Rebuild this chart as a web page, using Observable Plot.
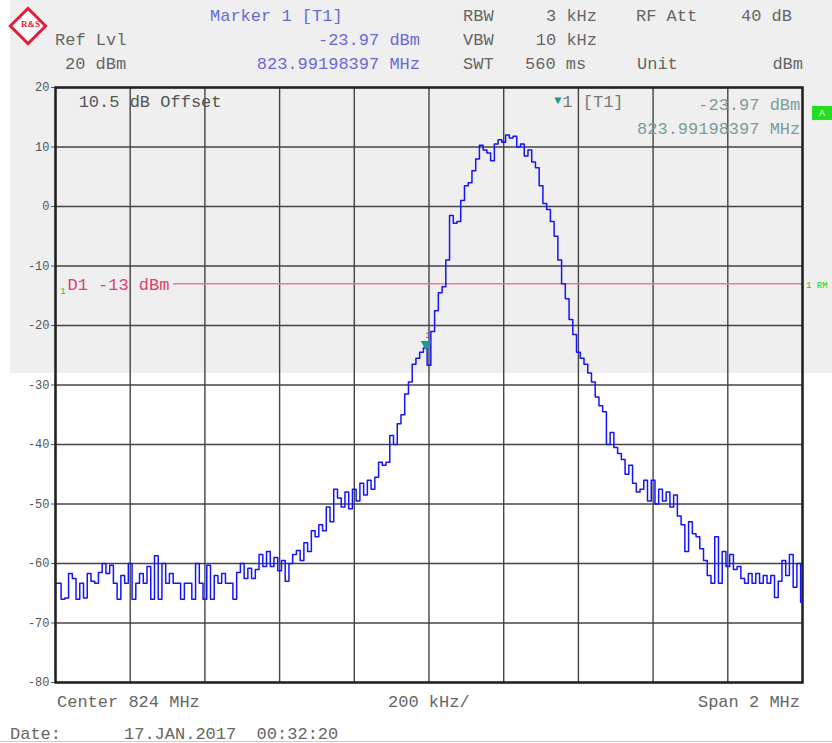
<!DOCTYPE html>
<html>
<head>
<meta charset="utf-8">
<script src="https://cdn.jsdelivr.net/npm/d3@7"></script>
<script src="https://cdn.jsdelivr.net/npm/@observablehq/plot@0.6"></script>
<style>
  html, body { margin: 0; padding: 0; background: #fff; }
  #wrap { position: relative; width: 832px; height: 743px; overflow: hidden; font-family: "Liberation Mono", monospace; }
  #shade { position: absolute; left: 10px; top: 0; width: 822px; height: 373px; background: #efefef; }
  #chart { position: absolute; left: 0; top: 0; }
  .t { position: absolute; font-size: 17px; line-height: 20px; color: #666; white-space: pre; }
  .b { color: #6a6ad6; }
  .r { text-align: right; }
  #logo { position: absolute; left: 14px; top: 12px; width: 22px; height: 22px; border: 3px solid #e0203a; transform: rotate(45deg); background: #fff; }
  #logo span { position: absolute; left: 2px; top: 3px; font: bold 9px "Liberation Serif", serif; color: #e0203a; transform: rotate(-45deg); }
  #abox { position: absolute; left: 812px; top: 106px; width: 20px; height: 14px; background: #22dd22; color: #fff; font: 9px "Liberation Sans", sans-serif; text-align: center; line-height: 14px; }
  #rm { position: absolute; left: 806px; top: 281px; color: #2c2; font: 9px "Liberation Mono", monospace; }
  #botline { position: absolute; left: 0; top: 741px; width: 832px; height: 1px; background: #ccc; }
</style>
</head>
<body>
<div id="wrap">
  <div id="shade"></div>
  <div id="chart"></div>
  <div id="logo"><span>R&amp;S</span></div>
  <div class="t b" style="left:210px;top:7px">Marker 1 [T1]</div>
  <div class="t" style="left:463px;top:7px">RBW</div>
  <div class="t r" style="left:497px;top:7px;width:100px">3 kHz</div>
  <div class="t" style="left:636px;top:7px">RF Att</div>
  <div class="t r" style="left:692px;top:7px;width:100px">40 dB</div>
  <div class="t" style="left:55px;top:31px">Ref Lvl</div>
  <div class="t b r" style="left:220px;top:31px;width:200px">-23.97 dBm</div>
  <div class="t" style="left:463px;top:31px">VBW</div>
  <div class="t r" style="left:497px;top:31px;width:100px">10 kHz</div>
  <div class="t" style="left:65px;top:55px">20 dBm</div>
  <div class="t b r" style="left:220px;top:55px;width:200px">823.99198397 MHz</div>
  <div class="t" style="left:463px;top:55px">SWT</div>
  <div class="t" style="left:525px;top:55px">560 ms</div>
  <div class="t" style="left:637px;top:55px">Unit</div>
  <div class="t r" style="left:703px;top:55px;width:100px">dBm</div>
  <div id="abox">A</div>
  <div id="rm">1 RM</div>
  <div class="t" style="left:57px;top:693px">Center 824 MHz</div>
  <div class="t" style="left:388px;top:693px">200 kHz/</div>
  <div class="t r" style="left:600px;top:693px;width:200px">Span 2 MHz</div>
  <div class="t" style="left:10px;top:725px">Date:</div>
  <div class="t" style="left:124px;top:725px">17.JAN.2017  00:32:20</div>
  <div id="botline"></div>
</div>
<script>
// Sweep: 201 points, 10 kHz apart, offset from 824 MHz centre (kHz)
const sweepKHz = d3.range(-1000, 1001, 10);
// Trace level (dBm)
const levelDBm = [
  -63.3,-63.3,-66,-65.8,-61.7,-62.5,-66,-63.3,-65.8,-61.7,
  -63,-63.3,-61.5,-60,-61.7,-60.3,-63.3,-66,-62,-63.3,
  -60,-66,-63.3,-61.7,-63.3,-60.5,-66,-58.7,-66,-60,
  -63.3,-61.7,-63.3,-63.3,-66,-63.3,-63.3,-66,-60,-63.3,
  -66,-60.3,-66,-62,-63.3,-61.7,-63.3,-63.3,-66,-61.5,
  -60,-62.5,-60.8,-62.5,-61,-58.5,-60.5,-58,-60.5,-59,
  -61.2,-59.5,-63,-60,-58.5,-57.8,-59.5,-56.5,-58,-54.5,
  -55.5,-53.5,-54.5,-50.5,-53,-47.5,-49,-50.5,-48,-50.8,
  -47.5,-49.5,-46.5,-48.5,-46,-47.5,-45.5,-43,-43.5,-43,
  -38.5,-40,-36.5,-35,-31.5,-29.5,-26.5,-25.5,-24.5,-23.8,
  -26.7,-21,-17.5,-14.5,-13.5,-9,-1.5,-2.8,-2.5,1,
  3.5,4,6,8,10.3,9.5,9,7.7,10.5,11.2,
  10.8,12,11.5,11.8,10,10.5,8.5,9.5,7.5,6.5,
  3.5,0.5,-0.5,-2.5,-5,-9,-13,-15.5,-19,-21.5,
  -24.5,-25.5,-26.5,-28,-29.5,-32,-33.5,-34.5,-40,-38,
  -40.5,-41.5,-42.5,-45,-43.5,-46.5,-48,-47.5,-46,-49.5,
  -46,-50,-47.5,-49.5,-48,-50.5,-48.5,-52,-53.5,-58,
  -53,-55,-55.5,-57.5,-59.5,-62,-63.3,-55.5,-63.3,-58,
  -60.5,-58.5,-61,-60.5,-62.5,-63.3,-61.7,-63.3,-61.7,-63.3,
  -62,-63.3,-62,-65.7,-63,-59.5,-62,-58.5,-64,-60,
  -66.5
];
const yTicks = [20, 10, 0, -10, -20, -30, -40, -50, -60, -70, -80];
const xGrid = [-1000, -800, -600, -400, -200, 0, 200, 400, 600, 800, 1000];
const marker = [{f: -8, level: -23.97}];
const displayLine = [{level: -13, from: -684, to: 1000}];
const notesLeft = [
  {f: -938, level: 17.6, text: "10.5 dB Offset", color: "#555"},
  {f: 357, level: 17.6, text: "1 [T1]", color: "#777"},
  {f: -968, level: -13.1, text: "D1 -13 dBm", color: "#e0406a"}
];
const notesRight = [
  {f: 994, level: 17.1, text: "-23.97 dBm", color: "#7a9c9c"},
  {f: 994, level: 13.1, text: "823.99198397 MHz", color: "#7a9c9c"}
];
const limitTag = [{f: -980, level: -14.2, text: "1"}];

const trace = sweepKHz.map((f, i) => ({f, level: levelDBm[i]}));
const font = "Liberation Mono, monospace";

const chart = Plot.plot({
  width: 832,
  height: 743,
  marginLeft: 55,
  marginRight: 30,
  marginTop: 87,
  marginBottom: 61,
  style: {background: "transparent", fontFamily: font, fontSize: "12px", color: "#555"},
  x: {domain: [-1000, 1000], axis: null},
  y: {domain: [-80, 20], ticks: yTicks, tickSize: 4, tickPadding: 2, tickFormat: d => String(d), label: null},
  marks: [
    Plot.ruleX(xGrid, {stroke: "#444", strokeWidth: 1.4}),
    Plot.ruleY(yTicks, {stroke: "#444", strokeWidth: 1.4}),
    Plot.ruleY(displayLine, {y: "level", x1: "from", x2: "to", stroke: "#f07890", strokeWidth: 1.5}),
    Plot.frame({stroke: "#222", strokeWidth: 2.5}),
    Plot.text(notesLeft, {x: "f", y: "level", text: "text", fill: "color", textAnchor: "start", fontSize: 17, fontFamily: font}),
    Plot.text(notesRight, {x: "f", y: "level", text: "text", fill: "color", textAnchor: "end", fontSize: 17, fontFamily: font}),
    Plot.text(notesLeft.slice(1, 2), {x: "f", y: "level", text: () => "▼", fill: "#1a9a8a", textAnchor: "end", fontSize: 12, dx: -1, dy: -2}),
    Plot.text(limitTag, {x: "f", y: "level", text: "text", fill: "#2c2", fontSize: 9}),
    Plot.line(trace, {x: "f", y: "level", stroke: "#1414ff", strokeWidth: 1.5, curve: "step"}),
    Plot.dot(marker, {x: "f", y: "level", symbol: "triangle", r: 4, rotate: 180, fill: "#1a9a8a", dy: -5}),
    Plot.text(marker, {x: "f", y: "level", text: () => "1", fill: "#666", fontSize: 9, dy: -14, dx: 2})
  ]
});
document.getElementById("chart").appendChild(chart);
</script>
</body>
</html>
